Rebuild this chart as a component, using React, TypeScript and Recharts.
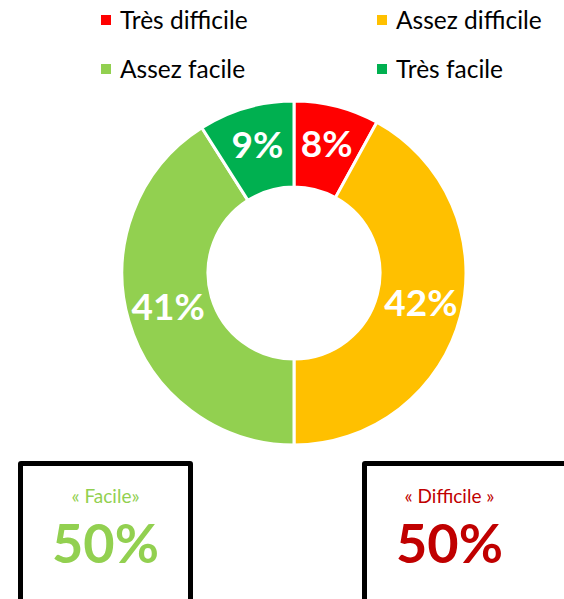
import React from "react";
import { PieChart, Pie, Cell } from "recharts";

const categories = ["Très difficile", "Assez difficile", "Assez facile", "Très facile"];
const shares = [8, 42, 41, 9];
const colors = ["#FF0000", "#FFC000", "#92D050", "#00B050"];

const totalFacile = 50;
const totalDifficile = 50;

const data = categories.map((name, i) => ({ name, value: shares[i] }));

const FONT = "Lato, 'Open Sans', sans-serif";
const RAD = Math.PI / 180;

function renderLabel(props: any) {
  const { cx, cy, midAngle, innerRadius, outerRadius, value } = props;
  const r = (innerRadius + outerRadius) / 2 + 2;
  const x = cx + r * Math.cos(-midAngle * RAD);
  const y = cy + r * Math.sin(-midAngle * RAD) - 4;
  return (
    <text
      x={x}
      y={y}
      fill="#fff"
      textAnchor="middle"
      dominantBaseline="central"
      fontFamily={FONT}
      fontWeight={700}
      fontSize={37}
    >
      {value}%
    </text>
  );
}

const legendPos = [
  { left: 101, top: 5 },
  { left: 377, top: 5 },
  { left: 101, top: 54 },
  { left: 377, top: 54 },
];

function ChartLegend() {
  return (
    <div style={{ position: "absolute", left: 0, top: 0, width: 564, height: 90 }}>
      {categories.map((c, i) => (
        <div
          key={c}
          style={{
            position: "absolute",
            left: legendPos[i].left,
            top: legendPos[i].top,
            display: "flex",
            alignItems: "center",
            fontFamily: FONT,
            fontSize: 24.5,
            color: "#000",
            whiteSpace: "nowrap",
          }}
        >
          <span
            style={{
              display: "inline-block",
              width: 10,
              height: 10,
              background: colors[i],
              marginRight: 9,
            }}
          />
          {c}
        </div>
      ))}
    </div>
  );
}

function Box({ left, width, padRight = 0, label, value, color }: any) {
  return (
    <div
      style={{
        position: "absolute",
        left,
        top: 461,
        width,
        height: 180,
        paddingRight: padRight,
        border: "5px solid #000",
        borderRadius: 3,
        boxSizing: "border-box",
        fontFamily: FONT,
        textAlign: "center",
        color,
      }}
    >
      <div style={{ fontSize: 19, marginTop: 19, lineHeight: "22px" }}>{label}</div>
      <div style={{ fontSize: 54, fontWeight: 700, lineHeight: "60px", marginTop: 6 }}>
        {value}%
      </div>
    </div>
  );
}

export default function App() {
  return (
    <div
      style={{
        position: "absolute",
        left: 0,
        top: 0,
        width: 564,
        height: 599,
        overflow: "hidden",
        background: "#fff",
      }}
    >
      <PieChart width={564} height={460} margin={{ top: 0, right: 0, bottom: 0, left: 0 }}>
        <Pie
          data={data}
          dataKey="value"
          nameKey="name"
          cx={294}
          cy={273}
          innerRadius={86}
          outerRadius={172}
          startAngle={90}
          endAngle={-270}
          stroke="#fff"
          strokeWidth={3}
          label={renderLabel}
          labelLine={false}
          isAnimationActive={false}
        >
          {data.map((d, i) => (
            <Cell key={d.name} fill={colors[i]} />
          ))}
        </Pie>
      </PieChart>
      <ChartLegend />
      <Box left={18} width={175} label="« Facile»" value={totalFacile} color="#92D050" />
      <Box
        left={362}
        width={220}
        padRight={45}
        label="« Difficile »"
        value={totalDifficile}
        color="#C00000"
      />
    </div>
  );
}
